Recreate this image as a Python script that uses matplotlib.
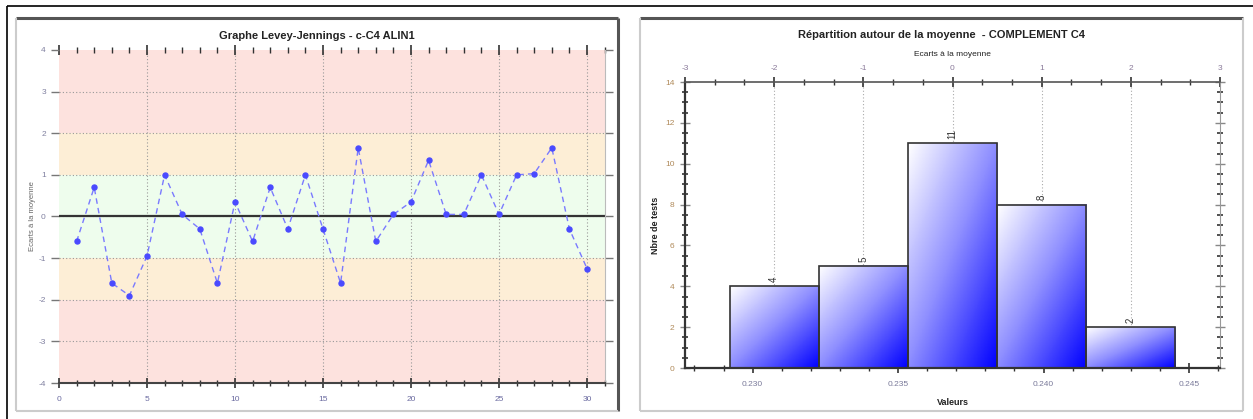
import matplotlib
import matplotlib.pyplot as plt
import numpy as np
from matplotlib.colors import LinearSegmentedColormap
from matplotlib.patches import Rectangle
from matplotlib.lines import Line2D
from matplotlib.ticker import MultipleLocator

matplotlib.use('Agg')
plt.rcParams['font.family'] = ['Liberation Sans', 'DejaVu Sans']
plt.rcParams['axes.unicode_minus'] = False

# Levey-Jennings data (z-scores per run)
runs = list(range(1, 31))
z_scores = [-0.6, 0.7, -1.6, -1.9, -0.95, 1.0, 0.05, -0.3, -1.6, 0.35,
            -0.6, 0.7, -0.3, 1.0, -0.3, -1.6, 1.65, -0.6, 0.05, 0.35,
            1.35, 0.05, 0.05, 1.0, 0.05, 1.0, 1.03, 1.65, -0.3, -1.25]

# histogram data
mean_val = 0.23687
sd_val = 0.003065
bin_offsets = [-2, -1, 0, 1, 2]  # in SD
bin_counts = [4, 5, 11, 8, 2]
value_ticks = [0.230, 0.235, 0.240, 0.245]
value_labels = ['0.230', '0.235', '0.240', '0.245']

W, H = 1253, 419


def px_rect(x0, y0, x1, y1):
    # pixel box (top-left origin) -> figure fraction rect
    return [x0 / W, 1 - y1 / H, (x1 - x0) / W, (y1 - y0) / H]


def fig_line(fig, xs, ys, color, lw):
    fig.add_artist(Line2D([x / W for x in xs], [1 - y / H for y in ys],
                          transform=fig.transFigure, color=color, lw=lw,
                          solid_capstyle='butt'))


fig = plt.figure(figsize=(W / 100, H / 100), dpi=100)
fig.patch.set_facecolor('white')

# outer border and panel frames
fig_line(fig, [7, W], [6, 6], 'black', 1.2)
fig_line(fig, [7, 7], [6, H], 'black', 1.2)
fig_line(fig, [16, 618], [18, 18], '#555555', 2.2)
fig_line(fig, [618, 618], [18, 411], '#555555', 2.2)
fig_line(fig, [16, 16], [18, 411], '#cccccc', 1.5)
fig_line(fig, [16, 618], [411, 411], '#cccccc', 1.5)
fig_line(fig, [640, 1243], [18, 18], '#555555', 2.2)
fig_line(fig, [640, 640], [18, 411], '#cccccc', 1.5)
fig_line(fig, [1243, 1243], [18, 411], '#cccccc', 1.5)
fig_line(fig, [640, 1243], [411, 411], '#cccccc', 1.5)

# ---------------- Levey-Jennings ----------------
ax = fig.add_axes(px_rect(59, 50, 604.6, 383))
ax.set_xlim(0, 31)
ax.set_ylim(-4, 4)
bands = [(2, 4, '#fde2de'), (1, 2, '#fdeed6'), (-1, 1, '#eefded'),
         (-2, -1, '#fdeed6'), (-4, -2, '#fde2de')]
for lo, hi, c in bands:
    ax.axhspan(lo, hi, color=c, lw=0, zorder=0)
for yv in range(-3, 4):
    ax.axhline(yv, color='#999999', lw=0.8, ls=(0, (1, 2)), zorder=1)
for xv in range(5, 31, 5):
    ax.axvline(xv, color='#999999', lw=0.8, ls=(0, (1, 2)), zorder=1)
ax.axhline(0, color='#333333', lw=1.6, zorder=2)
ax.plot(runs, z_scores, color='#7a7aff', lw=1, ls=(0, (4, 3)),
        marker='o', ms=3.6, mfc='#4a4aff', mec='#4a4aff', zorder=3)
fig.text(317 / W, 1 - 36 / H, 'Graphe Levey-Jennings - c-C4 ALIN1', fontsize=8,
         fontweight='bold', color='#222222', ha='center', va='center')
ax.set_ylabel('Ecarts à la moyenne', fontsize=5.5, color='#666666', labelpad=2)
ax.set_xticks(range(0, 31, 5))
ax.xaxis.set_minor_locator(MultipleLocator(1))
ax.set_yticks(range(-4, 5))
ax.tick_params(axis='x', which='major', direction='inout', length=7, width=1.2,
               labelsize=6, labelcolor='#6a6aa0', color='#333333', pad=6)
ax.tick_params(axis='x', which='minor', direction='inout', length=4, width=1,
               color='#333333')
ax.tick_params(axis='x', which='both', top=True)
ax.tick_params(axis='x', which='both', labeltop=False)
ax.tick_params(axis='y', direction='out', length=6, width=1, labelsize=6,
               labelcolor='#8080a0', color='#777777', right=True)
for s in ['left', 'top']:
    ax.spines[s].set_visible(False)
ax.spines['right'].set_color('#bbbbbb')
ax.spines['bottom'].set_color('#444444')
ax.spines['bottom'].set_linewidth(1.5)

# ---------------- Histogram ----------------
ax2 = fig.add_axes(px_rect(685, 82, 1220, 368))
xmin, xmax = mean_val - 3 * sd_val, mean_val + 3 * sd_val
for k in bin_offsets:
    ax2.axvline(mean_val + k * sd_val, color='#aaaaaa', lw=0.8, ls=(0, (1, 2)), zorder=0)

cmap = LinearSegmentedColormap.from_list('wb', ['#ffffff', '#8c8cff', '#0000ff'])
gx, gy = np.meshgrid(np.linspace(0, 1, 64), np.linspace(0, 1, 64))
grad = (gx + (1 - gy)) / 2
for k, n in zip(bin_offsets, bin_counts):
    x0 = mean_val + (k - 0.5) * sd_val
    x1 = mean_val + (k + 0.5) * sd_val
    ax2.imshow(grad, extent=[x0, x1, 0, n], origin='lower', cmap=cmap,
               aspect='auto', zorder=2, vmin=0, vmax=1)
    ax2.add_patch(Rectangle((x0, 0), x1 - x0, n, fill=False, ec='#333333',
                            lw=1.2, zorder=3))
    ax2.text(mean_val + k * sd_val, n + 0.2, str(n), rotation=90, ha='center',
             va='bottom', fontsize=7, color='#333333', zorder=4)

ax2.set_xlim(xmin, xmax)
ax2.set_ylim(0, 14)
ax2.set_xticks(value_ticks, value_labels)
ax2.xaxis.set_minor_locator(MultipleLocator(0.001))
ax2.set_yticks(range(0, 15, 2))
ax2.yaxis.set_minor_locator(MultipleLocator(0.5))
ax2.tick_params(axis='x', which='major', direction='inout', length=7, width=1.2,
                labelsize=6, labelcolor='#7a7a9a', color='#333333', pad=6)
ax2.tick_params(axis='x', which='minor', direction='inout', length=4, width=1, color='#333333')
ax2.tick_params(axis='y', which='major', direction='inout', length=7, width=1,
                labelsize=6, labelcolor='#b08a5a', color='#888888', pad=4)
ax2.tick_params(axis='y', which='minor', direction='inout', length=5, width=1.2,
                color='#333333')
ax2.tick_params(axis='y', which='both', right=True)
ax2.set_xlabel('Valeurs', fontsize=6.5, fontweight='bold', color='#222222', labelpad=7)
ax2.set_ylabel('Nbre de tests', fontsize=6.5, fontweight='bold', color='#222222', labelpad=4)
ax2.spines['left'].set_linewidth(1.6)
ax2.spines['left'].set_color('#333333')
ax2.spines['bottom'].set_linewidth(1.6)
ax2.spines['bottom'].set_color('#333333')
ax2.spines['top'].set_color('#555555')
ax2.spines['top'].set_linewidth(1.2)
ax2.spines['right'].set_color('#999999')

top = ax2.secondary_xaxis('top', functions=(lambda v: (v - mean_val) / sd_val,
                                             lambda z: mean_val + z * sd_val))
top.set_xticks(range(-3, 4))
top.xaxis.set_minor_locator(MultipleLocator(1 / 3))
top.tick_params(axis='x', which='major', direction='inout', length=7, width=1.2,
                labelsize=6, labelcolor='#8a7a9a', color='#333333', pad=4)
top.tick_params(axis='x', which='minor', direction='inout', length=4, width=1, color='#333333')
top.set_xlabel('Ecarts à la moyenne', fontsize=6, color='#222222', labelpad=6)
top.spines['top'].set_visible(False)
fig.text(941 / W, 1 - 35 / H, 'Répartition autour de la moyenne  - COMPLEMENT C4',
         fontsize=8, fontweight='bold', color='#222222', ha='center', va='center')

fig.savefig('out.png', dpi=100)
